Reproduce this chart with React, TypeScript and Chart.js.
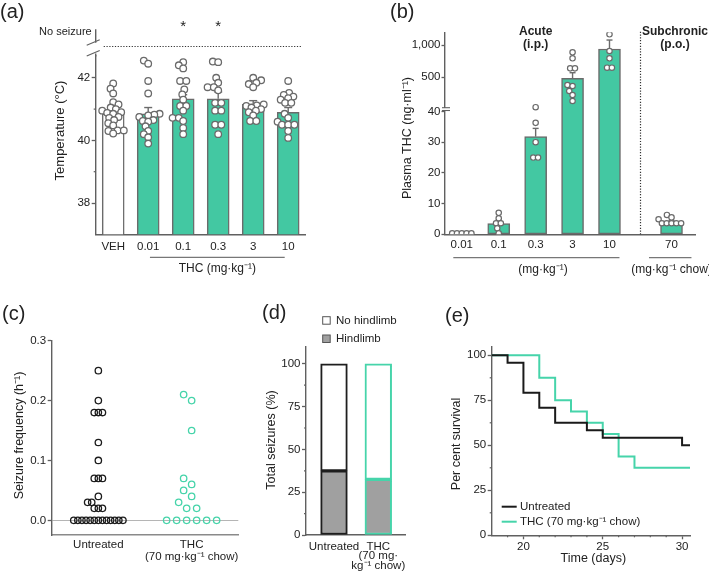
import React, { useEffect, useRef } from 'react';
import { Chart, registerables } from 'chart.js';

Chart.register(...registerables);

// ======================= DATA =======================
// (a) seizure temperature threshold
const A_LABELS = ['VEH', '0.01', '0.1', '0.3', '3', '10'];
const A_MEAN = [40.85, 40.85, 41.33, 41.33, 41.15, 40.9];
const A_SEM_TOP = [40.97, 41.05, 41.46, 41.55, 41.27, 41.05];
const A_VEH = [41.82, 41.65, 41.5, 41.22, 41.15, 41.05, 41.0, 40.95, 40.9, 40.88, 40.85, 40.75, 40.72, 40.65, 40.55, 40.48, 40.32, 40.32, 40.3, 40.22];
const A_THC_001 = [42.55, 42.45, 41.9, 41.5, 40.85, 40.82, 40.8, 40.75, 40.65, 40.62, 40.6, 40.45, 40.3, 40.2, 40.1, 39.9];
const A_THC_01 = [42.5, 42.4, 42.3, 41.9, 41.9, 41.63, 41.47, 41.3, 41.1, 41.1, 40.95, 40.72, 40.72, 40.62, 40.4, 40.2];
const A_THC_03 = [42.52, 42.5, 42.0, 41.84, 41.7, 41.7, 41.6, 41.2, 41.2, 40.95, 40.95, 40.5, 40.5, 40.2];
const A_THC_3 = [42.0, 41.92, 41.84, 41.8, 41.7, 41.15, 41.12, 41.1, 41.05, 41.0, 40.95, 40.9, 40.8, 40.62, 40.62];
const A_THC_10 = [41.9, 41.52, 41.45, 41.4, 41.35, 41.3, 41.2, 41.2, 40.85, 40.72, 40.6, 40.5, 40.5, 40.5, 40.3, 40.08];
const A_STARS = ['', '', '*', '*', '', ''];
const A_TICKS = [38, 40, 42];
const A_MINOR_TICKS = [39, 41];
const A_NO_SEIZURE = 43;

// (b) plasma THC
const B_LABELS = ['0.01', '0.1', '0.3', '3', '10', '70'];
const B_MEAN = [0.3, 3.5, 31.8, 484, 938, 3.9];
const B_SEM_TOP = [0.35, 4.6, 34.5, 571, 1077, 4.4];
const B_001 = [0.3, 0.3, 0.3, 0.3, 0.3];
const B_01 = [7.0, 5.2, 3.6, 3.6, 1.95, 0.33];
const B_03 = [41.4, 36.3, 30.0, 25.0, 25.0];
const B_3 = [887, 794, 639, 639, 381, 365, 288, 226, 133];
const B_10 = [1166, 907, 794, 649, 649];
const B_70 = [6.3, 5.5, 4.9, 3.6, 3.6, 3.6, 3.6, 3.6];
const B_TICKS = [0, 10, 20, 30, 40, 500, 1000];

// (c) seizure frequency
const C_LABELS = ['Untreated', ['THC', '(70 mg·kg⁻¹ chow)']];
const C_UNTREATED = [0.25, 0.2, 0.18, 0.18, 0.18, 0.13, 0.1, 0.07, 0.07, 0.07, 0.04, 0.03, 0.03, 0.02, 0.02, 0.02, 0, 0, 0, 0, 0, 0, 0, 0, 0, 0, 0, 0, 0];
const C_THC = [0.21, 0.2, 0.15, 0.07, 0.06, 0.05, 0.04, 0.03, 0.02, 0.02, 0, 0, 0, 0, 0, 0];
const C_TICKS = [0, 0.1, 0.2, 0.3];

// (d) seizure type
const D_LABELS = ['Untreated', ['THC', '(70 mg·', 'kg⁻¹ chow)']];
const D_HINDLIMB = [37.5, 32.5];
const D_NO_HINDLIMB = [62.5, 67.5];
const D_TICKS = [0, 25, 50, 75, 100];
const D_MINOR_TICKS = [12.5, 37.5, 62.5, 87.5];

// (e) survival
const E_UNTREATED_DAYS = [18, 19, 20, 21, 22, 24, 25, 30, 30.5];
const E_UNTREATED_SURV = [100, 95.8, 79.2, 70.8, 62.5, 58.3, 54.2, 50, 50];
const E_THC_DAYS = [18, 21, 22, 23, 24, 25, 26, 27, 30.5];
const E_THC_SURV = [100, 87.5, 75, 68.75, 62.5, 56.25, 43.75, 37.5, 37.5];
const E_X_TICKS = [20, 25, 30];
const E_X_MINOR = [19, 21, 22, 23, 24, 26, 27, 28, 29];
const E_Y_TICKS = [0, 25, 50, 75, 100];
const E_Y_MINOR = [12.5, 37.5, 62.5, 87.5];

// ======================= STYLE / LAYOUT =======================
const W = 709;
const H = 578;
const FONT = "'Liberation Sans', Arial, Helvetica, sans-serif";
const TEAL = '#43c8a2';
const TEAL_LINE = '#46d4aa';
const BAR_EDGE = '#6b6b6b';
const AXIS = '#606060';
const TEXT = '#222222';
const TICK_FONT = { family: FONT, size: 11.5 };

// broken axis of (b): lower segment linear, upper segment compressed
const B_BREAK = 45;
const B_UPPER_BASE = 40.62;
const B_UPPER_SCALE = 0.02104;
const tf = (v: number) => (v > B_BREAK ? B_UPPER_BASE + v * B_UPPER_SCALE : v);
const B_SLOTS = [0, 1, 2, 3, 4, 5.68];

type Area = { l: number; t: number; r: number; b: number };

function padFor(area: Area, yW: number, xH: number) {
  return { left: area.l - yW, top: area.t, right: W - area.r, bottom: H - area.b - xH };
}

function yScale(o: any) {
  return {
    type: 'linear',
    min: o.min,
    max: o.max,
    stacked: !!o.stacked,
    border: { display: true, color: AXIS, width: 1.4 },
    grid: {
      display: true,
      drawOnChartArea: !!o.gridColor,
      color: o.gridColor || AXIS,
      drawTicks: true,
      tickLength: o.tickLength ?? 4,
      tickColor: AXIS,
      tickWidth: 1.3,
    },
    ticks: { font: TICK_FONT, color: TEXT, padding: o.padding ?? 1.5, callback: (v: any, i: number) => o.label(Number(v), i) },
    afterBuildTicks: (s: any) => {
      s.ticks = o.ticks.map((v: number) => ({ value: v }));
    },
    afterFit: (s: any) => {
      s.width = o.width;
      s.paddingTop = 0;
      s.paddingBottom = 0;
    },
  };
}

function xScale(o: any) {
  return {
    type: 'linear',
    min: o.min,
    max: o.max,
    offset: false,
    stacked: !!o.stacked,
    border: { display: true, color: o.borderColor || AXIS, width: 1.4 },
    grid: {
      display: !!o.drawTicks,
      offset: false,
      drawOnChartArea: false,
      drawTicks: !!o.drawTicks,
      tickLength: 4,
      tickColor: AXIS,
      tickWidth: 1.3,
    },
    ticks: {
      font: { ...TICK_FONT, lineHeight: o.lineHeight ?? 1.2 },
      color: TEXT,
      padding: o.padding,
      maxRotation: 0,
      autoSkip: false,
      callback: (v: any, i: number) => o.label(Number(v), i),
    },
    afterBuildTicks: (s: any) => {
      s.ticks = o.ticks.map((v: number) => ({ value: v }));
    },
    afterFit: (s: any) => {
      s.height = o.height;
      s.paddingLeft = 0;
      s.paddingRight = 0;
    },
  };
}

function baseOptions(area: Area, yW: number, xH: number, scales: any) {
  return {
    responsive: false,
    animation: false,
    devicePixelRatio: 1,
    events: [],
    layout: { padding: padFor(area, yW, xH) },
    plugins: { legend: { display: false }, tooltip: { enabled: false }, title: { display: false } },
    scales,
  };
}

// ---------- drawing helpers ----------
function txt(ctx: any, s: string, x: number, y: number, size: number, o: any = {}) {
  ctx.save();
  ctx.font = `${o.bold ? 'bold ' : ''}${size}px ${FONT}`;
  ctx.fillStyle = o.color || TEXT;
  ctx.textAlign = o.align || 'center';
  ctx.textBaseline = 'middle';
  ctx.translate(x, y);
  if (o.rot) ctx.rotate(o.rot);
  ctx.fillText(s, 0, 0);
  ctx.restore();
}

function seg(ctx: any, x1: number, y1: number, x2: number, y2: number, color: string, width: number, dash?: number[]) {
  ctx.save();
  ctx.strokeStyle = color;
  ctx.lineWidth = width;
  if (dash) ctx.setLineDash(dash);
  ctx.beginPath();
  ctx.moveTo(x1, y1);
  ctx.lineTo(x2, y2);
  ctx.stroke();
  ctx.restore();
}

function minorY(chart: any, values: number[], len: number) {
  const s = chart.scales.y;
  const x = chart.chartArea.left;
  values.forEach((v) => {
    const y = s.getPixelForValue(v);
    seg(chart.ctx, x - len, y, x, y, AXIS, 1.2);
  });
}

function minorX(chart: any, values: number[], len: number) {
  const s = chart.scales.x;
  const y = chart.chartArea.bottom;
  values.forEach((v) => {
    const x = s.getPixelForValue(v);
    seg(chart.ctx, x, y, x, y + len, AXIS, 1.2);
  });
}

function errorBars(chart: any, meta: any, tops: number[], cap: number) {
  const ys = chart.scales.y;
  meta.data.forEach((el: any, i: number) => {
    const yt = ys.getPixelForValue(tops[i]);
    seg(chart.ctx, el.x, el.y, el.x, yt, BAR_EDGE, 1.4);
    seg(chart.ctx, el.x - cap / 2, yt, el.x + cap / 2, yt, BAR_EDGE, 1.4);
  });
}

// bee-swarm horizontal offsets (px): identical values form centred rows (spacing `step`),
// each row is moved sideways just enough to keep `minDist` from points already placed.
function swarm(values: number[], pxPerY: number, step: number, minDist: number): number[] {
  const idx = values.map((_, i) => i).sort((a, b) => values[a] - values[b]);
  const out: number[] = new Array(values.length).fill(0);
  const placed: { x: number; y: number }[] = [];
  let i = 0;
  while (i < idx.length) {
    let j = i;
    while (j < idx.length && values[idx[j]] === values[idx[i]]) j++;
    const n = j - i;
    const y = values[idx[i]] * pxPerY;
    const row = Array.from({ length: n }, (_, k) => (k - (n - 1) / 2) * step);
    const forb: [number, number][] = [];
    placed.forEach((p) => {
      const dy = Math.abs(p.y - y);
      if (dy < minDist) {
        const dx = Math.sqrt(minDist * minDist - dy * dy);
        forb.push([p.x - dx, p.x + dx]);
      }
    });
    const cands = [0];
    forb.forEach(([a, b]) => row.forEach((bx) => cands.push(a - bx, b - bx)));
    cands.sort((a, b) => Math.abs(a) - Math.abs(b) || a - b);
    let shift = 0;
    for (const c of cands) {
      const ok = row.every((bx) => forb.every(([a, b]) => bx + c <= a + 1e-6 || bx + c >= b - 1e-6));
      if (ok) {
        shift = c;
        break;
      }
    }
    row.forEach((bx, k) => {
      out[idx[i + k]] = bx + shift;
      placed.push({ x: bx + shift, y });
    });
    i = j;
  }
  return out;
}

// ======================= PANEL (a) =======================
const A_AREA: Area = { l: 95.7, t: 55.9, r: 305.7, b: 234.3 };
function makeA() {
  const groups = [A_VEH, A_THC_001, A_THC_01, A_THC_03, A_THC_3, A_THC_10];
  const pxX = (A_AREA.r - A_AREA.l) / 6;
  const pxY = (A_AREA.b - A_AREA.t) / (42.7 - 37);
  const pts = groups.flatMap((g, gi) => {
    const off = swarm(g, pxY, 6.2, 5.4);
    return g.map((v, k) => ({ x: gi + off[k] / pxX, y: v }));
  });
  return {
    type: 'bar',
    data: {
      datasets: [
        {
          type: 'bar',
          data: A_MEAN.map((v, i) => ({ x: i, y: v })),
          backgroundColor: A_LABELS.map((_, i) => (i === 0 ? '#ffffff' : TEAL)),
          borderColor: BAR_EDGE,
          borderWidth: 1.5,
          borderSkipped: false,
          barThickness: 22,
          order: 2,
        },
        {
          type: 'scatter',
          data: pts,
          pointRadius: 3.3,
          pointBorderWidth: 1.3,
          pointBorderColor: '#6a6a6a',
          pointBackgroundColor: '#ffffff',
          order: 1,
        },
      ],
    },
    options: baseOptions(A_AREA, 40, 22, {
      x: xScale({ min: -0.5, max: 5.5, ticks: A_LABELS.map((_, i) => i), label: (v: number) => A_LABELS[v], padding: 5.5, height: 22 }),
      y: yScale({ min: 37, max: 42.7, ticks: A_TICKS, label: (v: number) => String(v), width: 40 }),
    }),
    plugins: [
      {
        id: 'decorA',
        afterDatasetDraw(chart: any, args: any) {
          if (args.index === 0) errorBars(chart, args.meta, A_SEM_TOP, 8);
        },
        afterDraw(chart: any) {
          const ctx = chart.ctx;
          const ca = chart.chartArea;
          const ys = chart.scales.y;
          const xs = chart.scales.x;
          minorY(chart, A_MINOR_TICKS, 2);
          // axis continuation with break
          const yLo = ys.getPixelForValue(42.78);
          const yHi = ys.getPixelForValue(43.12);
          const yTop = ys.getPixelForValue(43.55);
          seg(ctx, ca.left, ca.top + 0.5, ca.left, yLo, AXIS, 1.4);
          seg(ctx, ca.left, yHi, ca.left, yTop, AXIS, 1.4);
          seg(ctx, ca.left - 9, yLo + 2.5, ca.left + 4, yLo - 3, AXIS, 1.1);
          seg(ctx, ca.left - 9, yHi + 2.5, ca.left + 4, yHi - 3, AXIS, 1.1);
          // no seizure dotted line
          const yN = ys.getPixelForValue(A_NO_SEIZURE);
          seg(ctx, ca.left + 8, yN, ca.right - 4, yN, '#333', 1.2, [1.2, 1.6]);
          txt(ctx, 'No seizure', ca.left - 4, ys.getPixelForValue(43.45), 11, { align: 'right' });
          // significance
          A_STARS.forEach((s, i) => {
            if (s) txt(ctx, s, xs.getPixelForValue(i), ys.getPixelForValue(43.62), 15);
          });
          // group line
          const gy = ca.bottom + 23;
          const x1 = xs.getPixelForValue(1.05);
          const x2 = xs.getPixelForValue(4.9);
          seg(ctx, x1, gy, x2, gy, '#777', 1.2);
          txt(ctx, 'THC (mg·kg⁻¹)', (x1 + x2) / 2, gy + 11, 12);
          txt(ctx, 'Temperature (°C)', 60, 130.5, 13, { rot: -Math.PI / 2 });
          txt(ctx, '(a)', 0, 12.5, 20, { align: 'left' });
        },
      },
    ],
  };
}

// ======================= PANEL (b) =======================
const B_AREA: Area = { l: 445, t: 32.3, r: 695, b: 234.3 };
function makeB() {
  const groups = [B_001, B_01, B_03, B_3, B_10, B_70];
  const yMax = 65.8;
  const pxY = (B_AREA.b - B_AREA.t) / yMax;
  const xMin = -0.455;
  const xMax = 6.316;
  const pxX = (B_AREA.r - B_AREA.l) / (xMax - xMin);
  const pts = groups.flatMap((g, gi) => {
    const tv = g.map(tf);
    const off = swarm(tv, pxY, 4.8, 5.2);
    return tv.map((v, k) => ({ x: B_SLOTS[gi] + off[k] / pxX, y: v }));
  });
  return {
    type: 'bar',
    data: {
      datasets: [
        {
          type: 'bar',
          data: B_MEAN.map((v, i) => ({ x: B_SLOTS[i], y: tf(v) })),
          backgroundColor: TEAL,
          borderColor: BAR_EDGE,
          borderWidth: 1.5,
          borderSkipped: false,
          barThickness: 22,
          order: 2,
        },
        {
          type: 'scatter',
          data: pts,
          pointRadius: 2.7,
          pointBorderWidth: 1.2,
          pointBorderColor: '#6a6a6a',
          pointBackgroundColor: '#ffffff',
          order: 1,
        },
      ],
    },
    options: baseOptions(B_AREA, 40, 22, {
      x: xScale({ min: xMin, max: xMax, ticks: B_SLOTS, label: (_v: number, i: number) => B_LABELS[i], padding: 3.8, height: 22 }),
      y: yScale({
        min: 0,
        max: yMax,
        ticks: B_TICKS.map(tf),
        label: (_v: number, i: number) => B_TICKS[i].toLocaleString('en-US'),
        width: 40,
        tickLength: 3.5,
        padding: 1,
      }),
    }),
    plugins: [
      {
        id: 'decorB',
        afterDatasetDraw(chart: any, args: any) {
          if (args.index === 0) errorBars(chart, args.meta, B_SEM_TOP.map(tf), 6);
        },
        afterDraw(chart: any) {
          const ctx = chart.ctx;
          const ca = chart.chartArea;
          const xs = chart.scales.x;
          const ys = chart.scales.y;
          // axis break just above the 40 tick
          const y40 = ys.getPixelForValue(40);
          seg(ctx, ca.left, y40 - 1.2, ca.left, y40 - 3.6, '#ffffff', 2.4);
          seg(ctx, ca.left - 3, y40 - 1, ca.left + 5, y40 - 1, AXIS, 1.1);
          seg(ctx, ca.left - 3, y40 - 3.8, ca.left + 5, y40 - 3.8, AXIS, 1.1);
          // separator
          const xd = xs.getPixelForValue(4.84);
          seg(ctx, xd, 31.7, xd, ca.bottom, '#333', 1.2, [1.2, 1.6]);
          txt(ctx, 'Acute', xs.getPixelForValue(2), 31.7, 12, { bold: true });
          txt(ctx, '(i.p.)', xs.getPixelForValue(2), 44.3, 12, { bold: true });
          txt(ctx, 'Subchronic', 675, 31.7, 12, { bold: true });
          txt(ctx, '(p.o.)', 675, 44.3, 12, { bold: true });
          // group lines
          const gy = ca.bottom + 23.4;
          const a1 = xs.getPixelForValue(-0.23);
          const a2 = xs.getPixelForValue(4.27);
          seg(ctx, a1, gy, a2, gy, '#777', 1.2);
          txt(ctx, '(mg·kg⁻¹)', xs.getPixelForValue(2.2), gy + 11.6, 12);
          const b1 = xs.getPixelForValue(5.07);
          const b2 = xs.getPixelForValue(6.22);
          seg(ctx, b1, gy, b2, gy, '#777', 1.2);
          txt(ctx, '(mg·kg⁻¹ chow)', xs.getPixelForValue(5.68), gy + 11.6, 12);
          txt(ctx, 'Plasma THC (ng·ml⁻¹)', 408, 138, 12.5, { rot: -Math.PI / 2 });
          txt(ctx, '(b)', 390, 12.5, 20, { align: 'left' });
        },
      },
    ],
  };
}

// ======================= PANEL (c) =======================
const C_AREA: Area = { l: 51.7, t: 340.7, r: 238.3, b: 535 };
function makeC() {
  const yMin = -0.0245;
  const yMax = 0.3;
  const pxY = (C_AREA.b - C_AREA.t) / (yMax - yMin);
  const pxX = (C_AREA.r - C_AREA.l) / 2;
  const offU = swarm(C_UNTREATED, pxY, 4.1, 6.5);
  const offT = swarm(C_THC, pxY, 10, 10);
  const common = { pointRadius: 3.2, pointBorderWidth: 1.3, pointBackgroundColor: 'rgba(0,0,0,0)', showLine: false };
  return {
    type: 'scatter',
    data: {
      datasets: [
        { ...common, data: C_UNTREATED.map((v, k) => ({ x: 0.5 + offU[k] / pxX, y: v })), pointBorderColor: '#1b1b1b' },
        { ...common, data: C_THC.map((v, k) => ({ x: 1.5 + offT[k] / pxX, y: v })), pointBorderColor: TEAL_LINE },
      ],
    },
    options: baseOptions(C_AREA, 40, 30, {
      x: xScale({ min: 0, max: 2, ticks: [0.5, 1.5], label: (_v: number, i: number) => C_LABELS[i], padding: 4.2, lineHeight: 1.0, height: 30, borderColor: '#8a8a8a' }),
      y: yScale({
        min: yMin,
        max: yMax,
        ticks: C_TICKS,
        label: (v: number) => v.toFixed(1),
        width: 40,
        gridColor: (c: any) => (c.tick && c.tick.value === 0 ? '#b5b5b5' : 'rgba(0,0,0,0)'),
      }),
    }),
    plugins: [
      {
        id: 'decorC',
        afterDraw(chart: any) {
          const ctx = chart.ctx;
          txt(ctx, 'Seizure frequency (h⁻¹)', 20, 435.5, 12.5, { rot: -Math.PI / 2 });
          txt(ctx, '(c)', 2, 314.5, 20, { align: 'left' });
        },
      },
    ],
  };
}

// ======================= PANEL (d) =======================
const D_AREA: Area = { l: 306, t: 346.7, r: 405, b: 535 };
function makeD() {
  const edges = ['#1e1e1e', TEAL_LINE];
  const common = { borderColor: edges, borderWidth: 2, borderSkipped: false, barThickness: 26.7 };
  return {
    type: 'bar',
    data: {
      datasets: [
        { ...common, label: 'Hindlimb', data: D_HINDLIMB.map((v, i) => ({ x: i, y: v })), backgroundColor: '#a0a0a0' },
        { ...common, label: 'No hindlimb', data: D_NO_HINDLIMB.map((v, i) => ({ x: i, y: v })), backgroundColor: '#ffffff' },
      ],
    },
    options: baseOptions(D_AREA, 40, 36, {
      x: xScale({ min: -0.632, max: 1.603, stacked: true, ticks: [0, 1], label: (_v: number, i: number) => D_LABELS[i], padding: 7, lineHeight: 0.83, height: 36 }),
      y: yScale({ min: 0, max: 110, stacked: true, ticks: D_TICKS, label: (v: number) => String(v), width: 40 }),
    }),
    plugins: [
      {
        id: 'decorD',
        afterDraw(chart: any) {
          const ctx = chart.ctx;
          minorY(chart, D_MINOR_TICKS, 2);
          // legend
          ctx.save();
          ctx.lineWidth = 1;
          ctx.strokeStyle = '#555';
          ctx.fillStyle = '#ffffff';
          ctx.fillRect(322.7, 316.7, 7.5, 7.5);
          ctx.strokeRect(322.7, 316.7, 7.5, 7.5);
          ctx.fillStyle = '#a0a0a0';
          ctx.fillRect(322.7, 335, 7.5, 7.5);
          ctx.strokeRect(322.7, 335, 7.5, 7.5);
          ctx.restore();
          txt(ctx, 'No hindlimb', 336, 320.5, 11.5, { align: 'left' });
          txt(ctx, 'Hindlimb', 336, 338.8, 11.5, { align: 'left' });
          txt(ctx, 'Total seizures (%)', 271.7, 440, 12.5, { rot: -Math.PI / 2 });
          txt(ctx, '(d)', 262, 313, 20, { align: 'left' });
        },
      },
    ],
  };
}

// ======================= PANEL (e) =======================
const E_AREA: Area = { l: 491.7, t: 346.3, r: 690, b: 535.3 };
function makeE() {
  const common = { stepped: 'before', pointRadius: 0, borderWidth: 2, fill: false, tension: 0 };
  return {
    type: 'line',
    data: {
      datasets: [
        { ...common, label: 'Untreated', data: E_UNTREATED_DAYS.map((d, i) => ({ x: d, y: E_UNTREATED_SURV[i] })), borderColor: '#1a1a1a' },
        { ...common, label: 'THC (70 mg·kg⁻¹ chow)', data: E_THC_DAYS.map((d, i) => ({ x: d, y: E_THC_SURV[i] })), borderColor: TEAL_LINE },
      ],
    },
    options: baseOptions(E_AREA, 40, 30, {
      x: xScale({ min: 18, max: 30.5, ticks: E_X_TICKS, label: (v: number) => String(v), padding: 1, height: 30, drawTicks: true }),
      y: yScale({ min: 0, max: 105, ticks: E_Y_TICKS, label: (v: number) => String(v), width: 40 }),
    }),
    plugins: [
      {
        id: 'decorE',
        afterDraw(chart: any) {
          const ctx = chart.ctx;
          minorX(chart, E_X_MINOR, 2);
          minorY(chart, E_Y_MINOR, 2);
          seg(ctx, 501.7, 506.7, 516.7, 506.7, '#1a1a1a', 2);
          txt(ctx, 'Untreated', 520, 506.7, 11.5, { align: 'left' });
          seg(ctx, 501.7, 521.7, 516.7, 521.7, TEAL_LINE, 2);
          txt(ctx, 'THC (70 mg·kg⁻¹ chow)', 520, 521.7, 11.5, { align: 'left' });
          txt(ctx, 'Time (days)', 593.3, 559, 12.5);
          txt(ctx, 'Per cent survival', 456.7, 444, 12.5, { rot: -Math.PI / 2 });
          txt(ctx, '(e)', 445, 316.7, 20, { align: 'left' });
        },
      },
    ],
  };
}

// ======================= COMPONENTS =======================
function Panel({ make }: { make: () => any }) {
  const ref = useRef<HTMLCanvasElement>(null);
  useEffect(() => {
    const chart = new Chart(ref.current as HTMLCanvasElement, make());
    return () => chart.destroy();
  }, []);
  return (
    <canvas
      ref={ref}
      width={W}
      height={H}
      style={{ position: 'absolute', left: 0, top: 0, width: W, height: H }}
    />
  );
}

export default function App() {
  return (
    <div style={{ position: 'absolute', left: 0, top: 0, width: W, height: H, background: '#ffffff', overflow: 'hidden' }}>
      <Panel make={makeA} />
      <Panel make={makeB} />
      <Panel make={makeC} />
      <Panel make={makeD} />
      <Panel make={makeE} />
    </div>
  );
}
